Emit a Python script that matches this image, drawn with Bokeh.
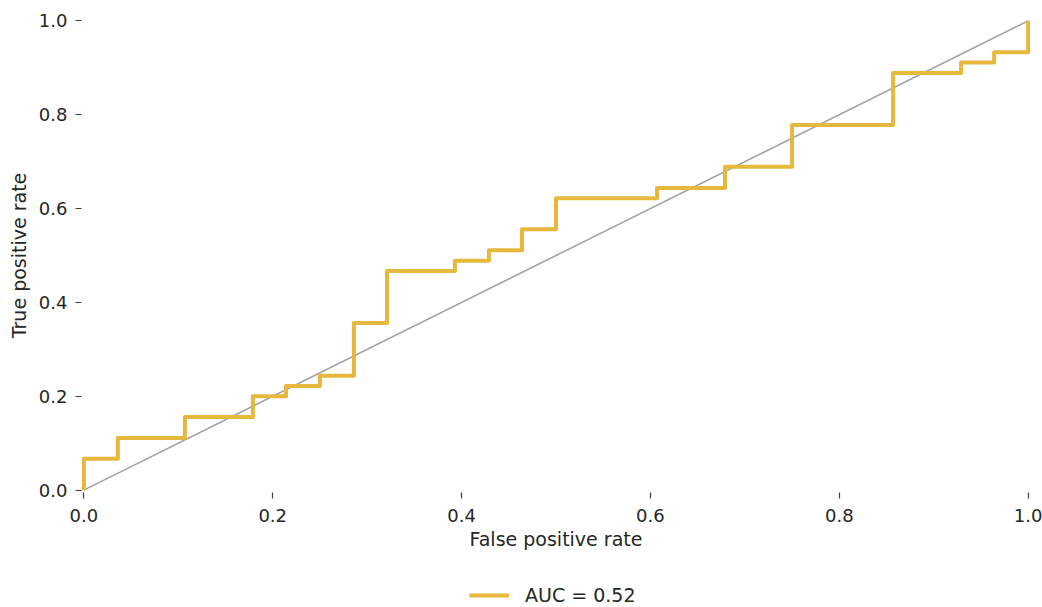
from bokeh.plotting import figure
from bokeh.layouts import column
from bokeh.models import Range1d, FixedTicker, PrintfTickFormatter, Legend, LegendItem
from bokeh.embed import file_html
from bokeh.resources import INLINE

# ROC curve corner points
fpr = [0.0, 0.0, 0.036, 0.036, 0.107, 0.107, 0.179, 0.179, 0.214, 0.214,
       0.25, 0.25, 0.286, 0.286, 0.321, 0.321, 0.393, 0.393, 0.429, 0.429,
       0.464, 0.464, 0.5, 0.5, 0.607, 0.607, 0.679, 0.679, 0.75, 0.75,
       0.857, 0.857, 0.929, 0.929, 0.964, 0.964, 1.0, 1.0]
tpr = [0.0, 0.067, 0.067, 0.111, 0.111, 0.156, 0.156, 0.2, 0.2, 0.222,
       0.222, 0.244, 0.244, 0.356, 0.356, 0.467, 0.467, 0.489, 0.489, 0.511,
       0.511, 0.556, 0.556, 0.622, 0.622, 0.644, 0.644, 0.689, 0.689, 0.778,
       0.778, 0.889, 0.889, 0.911, 0.911, 0.933, 0.933, 1.0]
chance_x = [0.0, 1.0]
chance_y = [0.0, 1.0]
ticks = [0.0, 0.2, 0.4, 0.6, 0.8, 1.0]
legend_label = "AUC = 0.52"

FONT = "DejaVu Sans"
FS_TICK = "18px"
FS_LAB = "19px"
TXT = "#262626"
ROC_COLOR = "#E6B83C"

p = figure(width=1042, height=565, output_backend="svg", toolbar_location=None,
           x_range=Range1d(-0.0025, 1.0025), y_range=Range1d(-0.005, 1.005),
           min_border_left=81, min_border_right=12, min_border_top=18, min_border_bottom=73)
p.outline_line_color = None
p.background_fill_color = "white"
p.border_fill_color = "white"
p.xgrid.visible = False
p.ygrid.visible = False

p.line(chance_x, chance_y, line_color="#a0a0a0", line_width=1.5)
p.line(fpr, tpr, line_color=ROC_COLOR, line_width=4, line_join="round")

for ax in (p.xaxis[0], p.yaxis[0]):
    ax.ticker = FixedTicker(ticks=ticks)
    ax.formatter = PrintfTickFormatter(format="%.1f")
    ax.axis_line_color = None
    ax.minor_tick_line_color = None
    ax.major_tick_in = 0
    ax.major_tick_line_color = "#404040"
    ax.major_tick_line_width = 1.2
    ax.major_label_text_font = FONT
    ax.major_label_text_font_size = FS_TICK
    ax.major_label_text_color = TXT
    ax.axis_label_text_font = FONT
    ax.axis_label_text_font_size = FS_LAB
    ax.axis_label_text_font_style = "normal"
    ax.axis_label_text_color = TXT

p.xaxis.axis_label = "False positive rate"
p.yaxis.axis_label = "True positive rate"
p.xaxis.major_tick_out = 6
p.yaxis.major_tick_out = 6
p.xaxis.major_label_standoff = 10
p.yaxis.major_label_standoff = 8
p.xaxis.axis_label_standoff = 3
p.yaxis.axis_label_standoff = 6

# legend strip below the chart
p2 = figure(width=1042, height=42, output_backend="svg", toolbar_location=None,
            min_border_left=0, min_border_right=0, min_border_top=0, min_border_bottom=0)
p2.outline_line_color = None
p2.border_fill_color = "white"
p2.background_fill_color = "white"
p2.axis.visible = False
p2.grid.visible = False
key = p2.line(fpr, tpr, line_color=ROC_COLOR, line_width=4, visible=False)

legend = Legend(items=[LegendItem(label=legend_label, renderers=[key])],
                location=(388, 1), orientation="horizontal",
                border_line_color=None, background_fill_alpha=0,
                padding=0, margin=0, glyph_width=40, glyph_height=20,
                label_height=20, label_standoff=16,
                label_text_font=FONT, label_text_font_size=FS_LAB, label_text_color=TXT)
p2.add_layout(legend, "center")

open("out.html", "w").write(file_html(column(p, p2, spacing=0), INLINE))
